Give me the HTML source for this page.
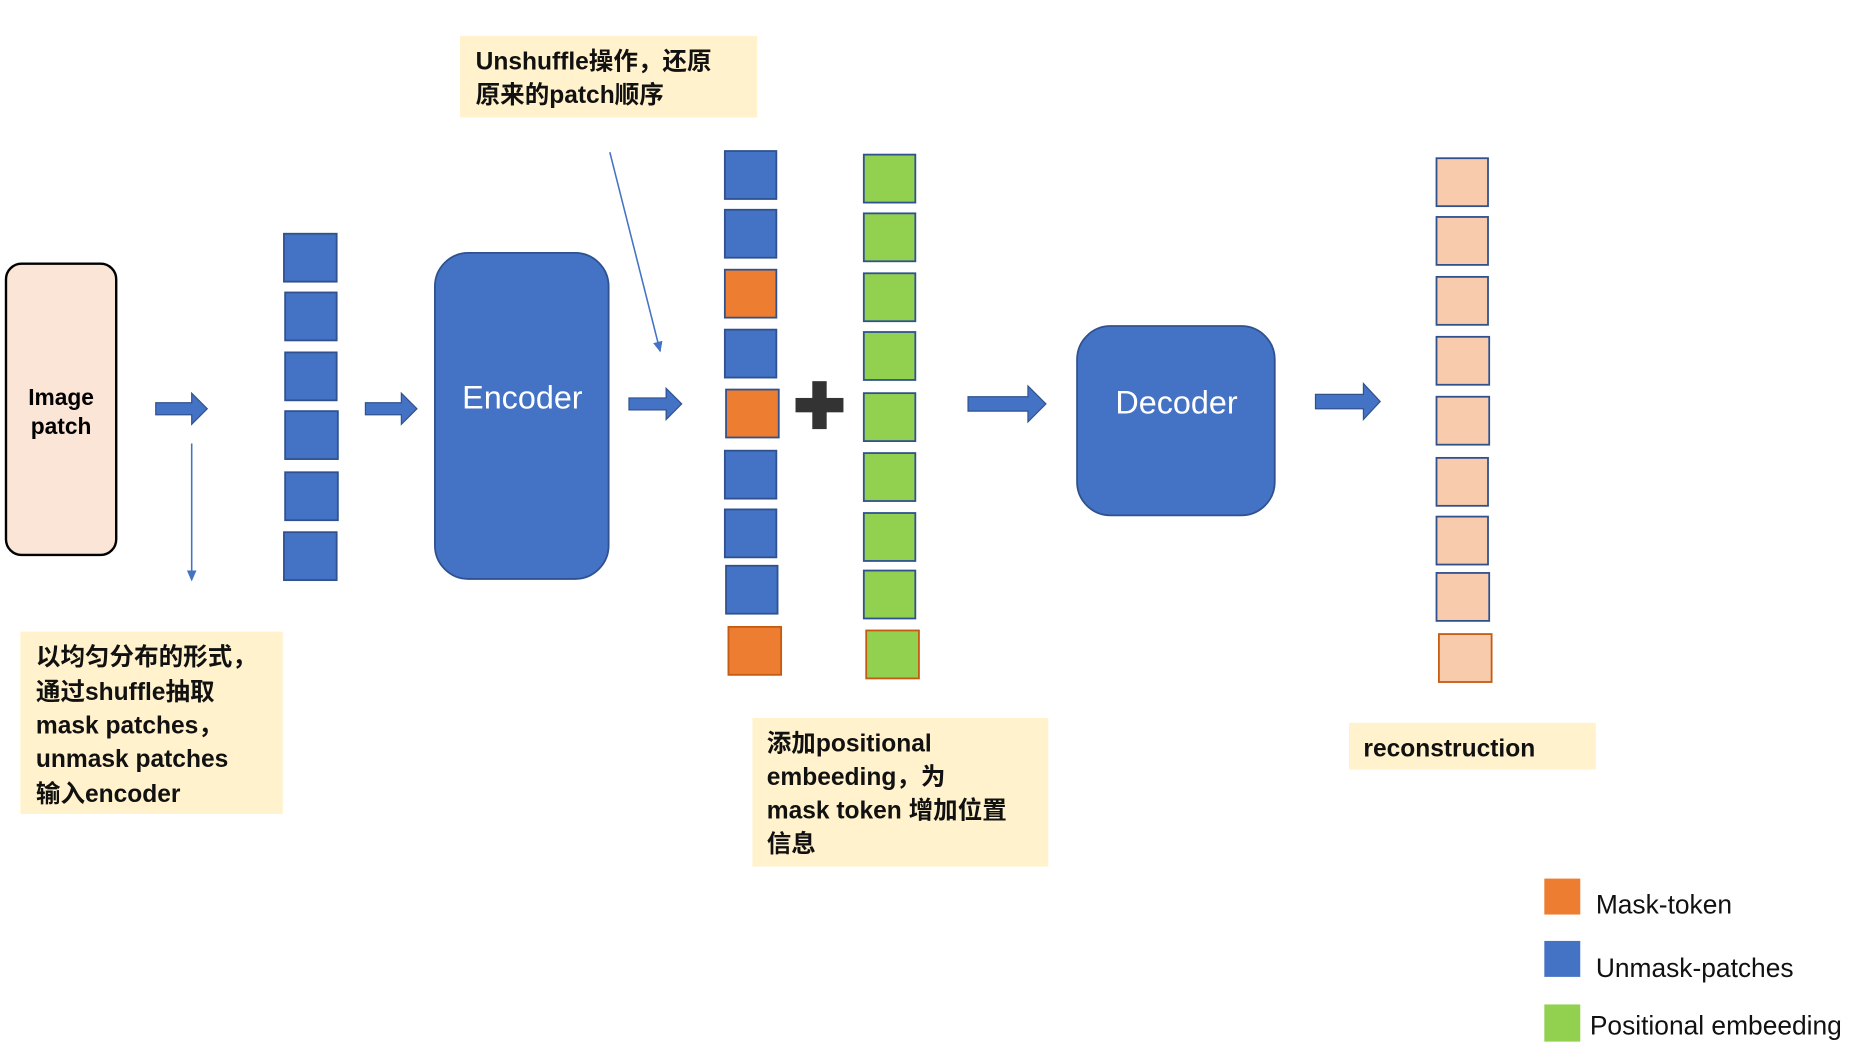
<!DOCTYPE html>
<html><head><meta charset="utf-8"><style>
html,body{margin:0;padding:0;background:#fff;}
svg{display:block;}
text{font-family:"Liberation Sans","Noto Sans CJK SC",sans-serif;}
</style></head><body>
<svg width="1869" height="1044" viewBox="0 0 1560 871" preserveAspectRatio="none" xmlns="http://www.w3.org/2000/svg">
<defs>
<marker id="ah" markerWidth="10" markerHeight="10" refX="8" refY="5" orient="auto" markerUnits="userSpaceOnUse">
<path d="M0,1 L9,5 L0,9 z" fill="#4472c4"/></marker>
</defs>
<!-- Image patch -->
<rect x="5" y="220" width="92" height="243" rx="13" fill="#fbe5d6" stroke="#000" stroke-width="2"/>
<text x="51" y="338" font-size="19" font-weight="bold" text-anchor="middle">Image</text>
<text x="51" y="362" font-size="19" font-weight="bold" text-anchor="middle">patch</text>

<!-- block arrows -->
<g fill="#4472c4" stroke="#2f528f" stroke-width="1">
<path d="M130,336 h30 v-8 l13,13 l-13,13 v-8 h-30 z"/>
<path d="M305,336 h30 v-8 l13,13 l-13,13 v-8 h-30 z"/>
<path d="M525,332 h31 v-8 l13,13 l-13,13 v-8 h-31 z"/>
<path d="M808,331 h50 v-9 l15,15 l-15,15 v-9 h-50 z"/>
<path d="M1098,329 h40 v-9 l14,15 l-14,15 v-9 h-40 z"/>
</g>

<!-- thin arrows -->
<line x1="160" y1="370" x2="160" y2="484" stroke="#4472c4" stroke-width="1.3" marker-end="url(#ah)"/>
<line x1="509" y1="127" x2="551" y2="293" stroke="#4472c4" stroke-width="1.3" marker-end="url(#ah)"/>

<!-- column 1 -->
<g fill="#4472c4" stroke="#2f528f" stroke-width="1.5">
<rect x="237" y="195" width="44" height="40"/>
<rect x="238" y="244" width="43" height="40"/>
<rect x="238" y="294" width="43" height="40"/>
<rect x="238" y="343" width="44" height="40"/>
<rect x="238" y="394" width="44" height="40"/>
<rect x="237" y="444" width="44" height="40"/>
</g>

<!-- Encoder -->
<rect x="363" y="211" width="145" height="272" rx="28" fill="#4472c4" stroke="#2f528f" stroke-width="1.5"/>
<text x="436" y="341" font-size="27" fill="#fff" text-anchor="middle">Encoder</text>

<!-- column 2 -->
<g stroke="#2f528f" stroke-width="1.5">
<rect x="605" y="126" width="43" height="40" fill="#4472c4"/>
<rect x="605" y="175" width="43" height="40" fill="#4472c4"/>
<rect x="605" y="225" width="43" height="40" fill="#ed7d31"/>
<rect x="605" y="275" width="43" height="40" fill="#4472c4"/>
<rect x="606" y="325" width="44" height="40" fill="#ed7d31"/>
<rect x="605" y="376" width="43" height="40" fill="#4472c4"/>
<rect x="605" y="425" width="43" height="40" fill="#4472c4"/>
<rect x="606" y="472" width="43" height="40" fill="#4472c4"/>
<rect x="608" y="523" width="44" height="40" fill="#ed7d31" stroke="#c55a11"/>
</g>

<!-- plus -->
<g fill="#333">
<rect x="678" y="318" width="12" height="40"/>
<rect x="664" y="332" width="40" height="12"/>
</g>

<!-- green column -->
<g fill="#92d050" stroke="#2f528f" stroke-width="1.5">
<rect x="721" y="129" width="43" height="40"/>
<rect x="721" y="178" width="43" height="40"/>
<rect x="721" y="228" width="43" height="40"/>
<rect x="721" y="277" width="43" height="40"/>
<rect x="721" y="328" width="43" height="40"/>
<rect x="721" y="378" width="43" height="40"/>
<rect x="721" y="428" width="43" height="40"/>
<rect x="721" y="476" width="43" height="40"/>
<rect x="723" y="526" width="44" height="40" stroke="#c55a11"/>
</g>

<!-- Decoder -->
<rect x="899" y="272" width="165" height="158" rx="28" fill="#4472c4" stroke="#2f528f" stroke-width="1.5"/>
<text x="982" y="345" font-size="27" fill="#fff" text-anchor="middle">Decoder</text>

<!-- reconstruction column -->
<g fill="#f8cbad" stroke="#2f528f" stroke-width="1.5">
<rect x="1199" y="132" width="43" height="40"/>
<rect x="1199" y="181" width="43" height="40"/>
<rect x="1199" y="231" width="43" height="40"/>
<rect x="1199" y="281" width="44" height="40"/>
<rect x="1199" y="331" width="44" height="40"/>
<rect x="1199" y="382" width="43" height="40"/>
<rect x="1199" y="431" width="43" height="40"/>
<rect x="1199" y="478" width="44" height="40"/>
<rect x="1201" y="529" width="44" height="40" stroke="#c55a11"/>
</g>

<!-- label boxes -->
<g fill="#fff2cc">
<rect x="384" y="30" width="248" height="68"/>
<rect x="17" y="527" width="219" height="152"/>
<rect x="628" y="599" width="247" height="124"/>
<rect x="1126" y="603" width="206" height="39"/>
</g>
<g font-size="20.5" font-weight="bold" fill="#111">
<text x="397" y="58">Unshuffle操作，还原</text>
<text x="397" y="86">原来的patch顺序</text>
<text x="30" y="555">以均匀分布的形式，</text>
<text x="30" y="584">通过shuffle抽取</text>
<text x="30" y="612">mask patches，</text>
<text x="30" y="640">unmask patches</text>
<text x="30" y="669">输入encoder</text>
<text x="640" y="627">添加positional</text>
<text x="640" y="655">embeeding，为</text>
<text x="640" y="683">mask token 增加位置</text>
<text x="640" y="711">信息</text>
<text x="1138" y="631">reconstruction</text>
</g>

<!-- legend -->
<rect x="1289" y="733" width="30" height="30" fill="#ed7d31"/>
<rect x="1289" y="785" width="30" height="30" fill="#4472c4"/>
<rect x="1289" y="838" width="30" height="31" fill="#92d050"/>
<g font-size="22" fill="#111">
<text x="1332" y="762">Mask-token</text>
<text x="1332" y="815">Unmask-patches</text>
<text x="1327" y="863">Positional embeeding</text>
</g>
</svg>
</body></html>
